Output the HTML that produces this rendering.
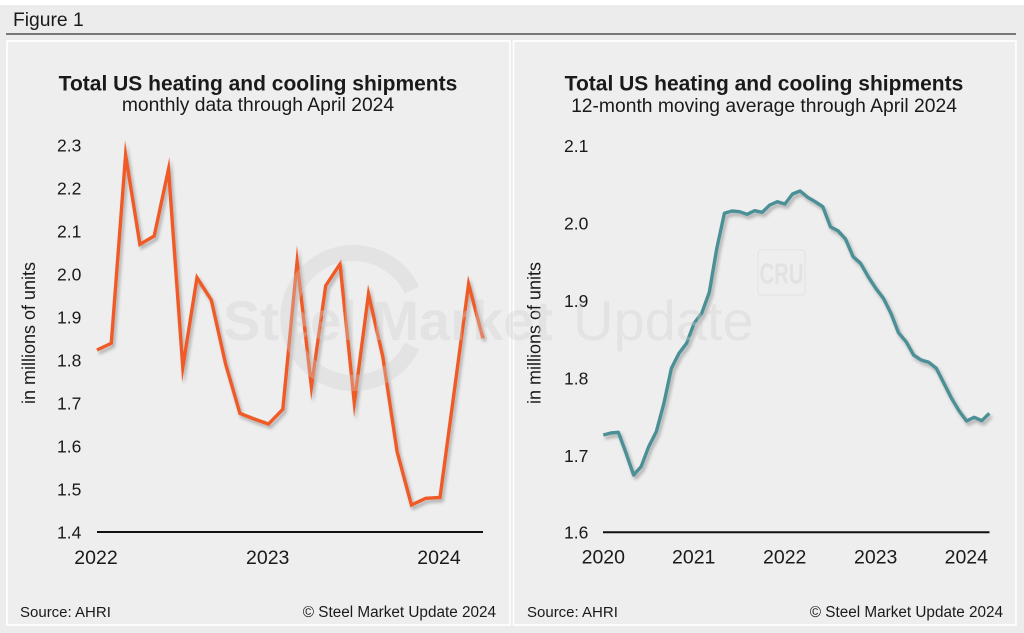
<!DOCTYPE html>
<html><head><meta charset="utf-8"><style>
html,body{margin:0;padding:0;background:#fff;}
svg{display:block;}
text{font-family:"Liberation Sans",Arial,sans-serif;fill:#1a1a1a;}
</style></head><body>
<svg width="1024" height="633" viewBox="0 0 1024 633" xmlns="http://www.w3.org/2000/svg">
<defs>
<filter id="sh" x="-10%" y="-10%" width="120%" height="130%">
<feDropShadow dx="2" dy="3" stdDeviation="1.6" flood-color="#000" flood-opacity="0.28"/>
</filter>
</defs>
<rect x="0" y="0" width="1024" height="633" fill="#fff"/>
<rect x="0" y="5" width="1024" height="628" fill="#ececec"/>
<text x="13" y="26" font-size="19.3">Figure 1</text>
<line x1="6" y1="34" x2="1016" y2="34" stroke="#333" stroke-width="1.3"/>
<rect x="7" y="41" width="503" height="584" fill="#eeeeee" stroke="#fff" stroke-width="1.6"/>
<rect x="513.5" y="41" width="502.5" height="584" fill="#eeeeee" stroke="#fff" stroke-width="1.6"/>

<!-- Left chart -->
<text x="258" y="90.5" font-size="21" font-weight="bold" text-anchor="middle">Total US heating and cooling shipments</text>
<text x="258" y="111" font-size="19.3" text-anchor="middle">monthly data through April 2024</text>
<g font-size="17.5">
<text x="57" y="151.5">2.3</text>
<text x="57" y="194.5">2.2</text>
<text x="57" y="237.5">2.1</text>
<text x="57" y="280.5">2.0</text>
<text x="57" y="323.5">1.9</text>
<text x="57" y="366.5">1.8</text>
<text x="57" y="409.5">1.7</text>
<text x="57" y="452.5">1.6</text>
<text x="57" y="495.5">1.5</text>
<text x="57" y="538.5">1.4</text>
</g>
<text transform="translate(35,333) rotate(-90)" font-size="18" text-anchor="middle">in millions of units</text>
<g font-size="19.5" text-anchor="middle">
<text x="96" y="564">2022</text>
<text x="267.7" y="564">2023</text>
<text x="439" y="564">2024</text>
</g>
<line x1="97" y1="532" x2="483" y2="532" stroke="#111" stroke-width="2"/>
<polyline filter="url(#sh)" fill="none" stroke="#f05a28" stroke-width="3.4" stroke-linejoin="miter" stroke-miterlimit="10" points="97,350 111.3,343.3 125.6,155 139.9,244.3 154.2,236 168.5,169.3 182.8,367.3 197,277.7 211.3,300 225.6,364 239.9,413.3 254.2,419 268.5,424 282.8,409.3 297.1,261.7 311.4,386.7 325.7,285.7 340,264 354.3,402.7 368.5,294 382.8,356.7 397.1,451.7 411.4,505 425.7,498.3 440,497.5 454.3,391 468.6,284 482.9,338.3"/>
<text x="20" y="617" font-size="15" fill="#222">Source: AHRI</text>
<text x="496" y="617" font-size="15.3" text-anchor="end" fill="#222">© Steel Market Update 2024</text>

<!-- Right chart -->
<text x="764" y="90.5" font-size="21" font-weight="bold" text-anchor="middle">Total US heating and cooling shipments</text>
<text x="764" y="112" font-size="19.3" text-anchor="middle">12-month moving average through April 2024</text>
<g font-size="17.5">
<text x="564" y="152">2.1</text>
<text x="564" y="229.5">2.0</text>
<text x="564" y="307">1.9</text>
<text x="564" y="384.5">1.8</text>
<text x="564" y="462">1.7</text>
<text x="564" y="538.5">1.6</text>
</g>
<text transform="translate(540.5,333) rotate(-90)" font-size="18" text-anchor="middle">in millions of units</text>
<g font-size="19.5" text-anchor="middle">
<text x="603.3" y="563.5">2020</text>
<text x="693.7" y="563.5">2021</text>
<text x="784.7" y="563.5">2022</text>
<text x="875.7" y="563.5">2023</text>
<text x="966.3" y="563.5">2024</text>
</g>
<line x1="603" y1="532.3" x2="989.5" y2="532.3" stroke="#111" stroke-width="2"/>
<polyline filter="url(#sh)" fill="none" stroke="#4b9096" stroke-width="3.4" stroke-linejoin="round" points="603.3,435 610.9,433 618.4,432.3 626,453 633.6,475 641.1,466.7 648.7,446.7 656.3,431.7 663.9,403.3 671.4,368.3 679,353.3 686.6,343.3 694.1,323.3 701.7,313.3 709.3,292.3 716.8,248.3 724.4,213.3 732,211 739.5,211.7 747.1,214.3 754.7,210.7 762.2,212.3 769.8,205 777.4,201.7 784.9,204 792.5,194 800.1,191 807.7,197.3 815.2,201.7 822.8,206.7 830.4,226.7 837.9,230.7 845.5,239 853.1,256.7 860.6,263.3 868.2,276.7 875.8,288.3 883.4,298.3 890.9,313.3 898.5,332.7 906.1,341.7 913.6,355 921.2,360 928.8,362.3 936.3,368.3 943.9,383.3 951.5,398.3 959,410.7 966.6,421 974.2,417.3 981.8,420.7 989.3,413.3"/>
<text x="527" y="617" font-size="15" fill="#222">Source: AHRI</text>
<text x="1003" y="617" font-size="15.3" text-anchor="end" fill="#222">© Steel Market Update 2024</text>

<!-- Watermarks -->
<g opacity="0.35">
<path d="M 412 290 A 65 65 0 1 0 412 346" fill="none" stroke="#cfcfcf" stroke-width="16"/>
<text x="223" y="340" font-size="56" font-weight="bold" style="fill:#cfcfcf">Steel Market</text>
<text x="573" y="340" font-size="56" style="fill:#cfcfcf">Update</text>
</g>
<rect x="758" y="250" width="47" height="45" rx="3" fill="none" stroke="#e4e4e4" stroke-width="1.2"/>
<text x="781.5" y="283.5" font-size="29" font-weight="bold" text-anchor="middle" transform="translate(781.5,0) scale(0.7,1) translate(-781.5,0)" style="fill:#e2e2e2">CRU</text>
</svg>
</body></html>
